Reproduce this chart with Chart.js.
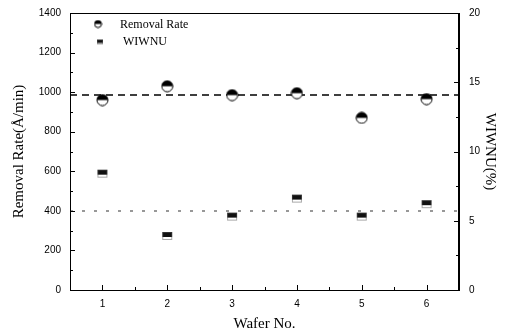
<!DOCTYPE html>
<html>
<head>
<meta charset="utf-8">
<script src="https://cdn.jsdelivr.net/npm/chart.js@4/dist/chart.umd.min.js"></script>
<style>
  html, body { margin: 0; padding: 0; background: #fff; }
  #wrap { width: 507px; height: 333px; }
</style>
</head>
<body>
<div id="wrap"><canvas id="chart"></canvas></div>
<script>
// data
const wafers = [1, 2, 3, 4, 5, 6];
const removalRate = [960, 1030, 985, 995, 870, 965];   // Å/min, left axis
const wiwnu = [8.4, 3.9, 5.3, 6.6, 5.3, 6.2];          // %, right axis
const rateMean = 985;
const wiwnuMean = 5.7;
const xRange = [0.5, 6.5];
const rateTicks = [0, 200, 400, 600, 800, 1000, 1200, 1400];
const wiwnuTicks = [0, 5, 10, 15, 20];

// half filled markers
function halfCircle(d) {
    const c = document.createElement('canvas');
    c.width = c.height = d + 2;
    const g = c.getContext('2d');
    const r = d / 2, m = r + 1;
    g.beginPath(); g.arc(m, m, r, 0, Math.PI * 2);
    g.fillStyle = '#fff'; g.fill();
    g.beginPath(); g.arc(m, m, r, Math.PI, 0); g.closePath();
    g.fillStyle = '#000'; g.fill();
    g.beginPath(); g.arc(m, m, r, 0, Math.PI * 2);
    g.lineWidth = 1; g.strokeStyle = '#000'; g.stroke();
    return c;
}

function halfSquare(w, h) {
    const c = document.createElement('canvas');
    c.width = w + 2; c.height = h + 2;
    const g = c.getContext('2d');
    g.fillStyle = '#fff'; g.fillRect(1, 1, w, h);
    g.fillStyle = '#111'; g.fillRect(1, 1, w, h / 2 + 1);
    g.setLineDash([1, 1]);
    g.strokeStyle = '#555'; g.lineWidth = 1;
    g.strokeRect(1.5, 1.5, w - 1, h - 1);
    return c;
}

const circleImg = halfCircle(11);
const squareImg = halfSquare(10, 8);
const circleSmall = halfCircle(7);
const squareSmall = halfSquare(6, 5);

const serif = "'Liberation Serif', 'Times New Roman', serif";
const sans = "'Liberation Sans', Arial, sans-serif";
const plain = v => String(v);

// inward ticks, frame and legend
const decor = {
    id: 'decor',
    afterDraw(chart) {
        const ctx = chart.ctx;
        const a = chart.chartArea;
        ctx.save();
        ctx.strokeStyle = '#000';
        ctx.lineWidth = 1;

        // frame
        ctx.strokeRect(a.left + 0.5, a.top + 0.5, a.right - a.left - 1, a.bottom - a.top);

        const mark = (x1, y1, x2, y2) => {
            ctx.beginPath(); ctx.moveTo(x1, y1); ctx.lineTo(x2, y2); ctx.stroke();
        };

        const x = chart.scales.x;
        for (const v of wafers) {
            const px = Math.round(x.getPixelForValue(v)) + 0.5;
            mark(px, a.bottom, px, a.bottom - 5);
            const mx = Math.round(x.getPixelForValue(v + 0.5)) + 0.5;
            if (v + 0.5 < xRange[1]) mark(mx, a.bottom, mx, a.bottom - 3);
        }

        const y = chart.scales.y;
        rateTicks.forEach((v, i) => {
            const py = Math.round(y.getPixelForValue(v)) + 0.5;
            mark(a.left, py, a.left + 5, py);
            if (i < rateTicks.length - 1) {
                const my = Math.round(y.getPixelForValue((v + rateTicks[i + 1]) / 2)) + 0.5;
                mark(a.left, my, a.left + 3, my);
            }
        });

        const y2 = chart.scales.y2;
        wiwnuTicks.forEach((v, i) => {
            const py = Math.round(y2.getPixelForValue(v)) + 0.5;
            mark(a.right, py, a.right - 5, py);
            if (i < wiwnuTicks.length - 1) {
                const my = Math.round(y2.getPixelForValue((v + wiwnuTicks[i + 1]) / 2)) + 0.5;
                mark(a.right, my, a.right - 3, my);
            }
        });

        // legend
        ctx.drawImage(circleSmall, 98 - circleSmall.width / 2, 24 - circleSmall.height / 2);
        ctx.drawImage(squareSmall, 100 - squareSmall.width / 2, 42 - squareSmall.height / 2);
        ctx.fillStyle = '#000';
        ctx.font = '12px ' + serif;
        ctx.textBaseline = 'middle';
        ctx.fillText('Removal Rate', 120, 25);
        ctx.fillText('WIWNU', 123, 42);
        ctx.restore();
    }
};

new Chart(document.getElementById('chart'), {
    type: 'scatter',
    data: {
        datasets: [
            {
                label: 'Removal Rate',
                data: wafers.map((w, i) => ({x: w, y: removalRate[i]})),
                yAxisID: 'y',
                pointStyle: circleImg,
                pointRadius: 6
            },
            {
                label: 'WIWNU',
                data: wafers.map((w, i) => ({x: w, y: wiwnu[i]})),
                yAxisID: 'y2',
                pointStyle: squareImg,
                pointRadius: 5
            },
            {
                type: 'line',
                label: 'rate mean',
                data: xRange.map(v => ({x: v, y: rateMean})),
                yAxisID: 'y',
                borderColor: '#000',
                borderWidth: 1.5,
                borderDash: [7, 5],
                pointRadius: 0
            },
            {
                type: 'line',
                label: 'wiwnu mean',
                data: xRange.map(v => ({x: v, y: wiwnuMean})),
                yAxisID: 'y2',
                borderColor: '#777',
                borderWidth: 1.5,
                borderDash: [3, 9],
                pointRadius: 0
            }
        ]
    },
    options: {
        responsive: true,
        maintainAspectRatio: false,
        animation: false,
        layout: {padding: {top: 13, left: 0, right: 0, bottom: 0}},
        plugins: {legend: {display: false}, tooltip: {enabled: false}},
        scales: {
            x: {
                type: 'linear',
                min: xRange[0],
                max: xRange[1],
                afterFit(s) { s.height = 43; s.paddingLeft = 0; s.paddingRight = 0; },
                afterBuildTicks(s) { s.ticks = wafers.map(v => ({value: v})); },
                grid: {display: false, drawTicks: false},
                border: {display: true, color: '#000'},
                ticks: {padding: 8, color: '#000', font: {family: sans, size: 10}, callback: plain},
                title: {display: true, text: 'Wafer No.', color: '#000',
                        font: {family: serif, size: 15}, padding: {top: 2, bottom: 0}}
            },
            y: {
                position: 'left',
                min: 0,
                max: 1400,
                afterFit(s) { s.width = 70; s.paddingTop = 0; s.paddingBottom = 0; },
                afterBuildTicks(s) { s.ticks = rateTicks.map(v => ({value: v})); },
                grid: {display: false, drawTicks: false},
                border: {display: true, color: '#000'},
                ticks: {padding: 9, color: '#000', font: {family: sans, size: 10}, callback: plain},
                title: {display: true, text: 'Removal Rate(Å/min)', color: '#000',
                        font: {family: serif, size: 15}, padding: {top: 10, bottom: 0}}
            },
            y2: {
                position: 'right',
                min: 0,
                max: 20,
                afterFit(s) { s.width = 48; s.paddingTop = 0; s.paddingBottom = 0; },
                afterBuildTicks(s) { s.ticks = wiwnuTicks.map(v => ({value: v})); },
                grid: {display: false, drawTicks: false},
                border: {display: true, color: '#000'},
                ticks: {padding: 10, color: '#000', font: {family: sans, size: 10}, callback: plain},
                title: {display: true, text: 'WIWNU(%)', color: '#000',
                        font: {family: serif, size: 15}, padding: {top: 8, bottom: 0}}
            }
        }
    },
    plugins: [decor]
});
</script>
</body>
</html>
